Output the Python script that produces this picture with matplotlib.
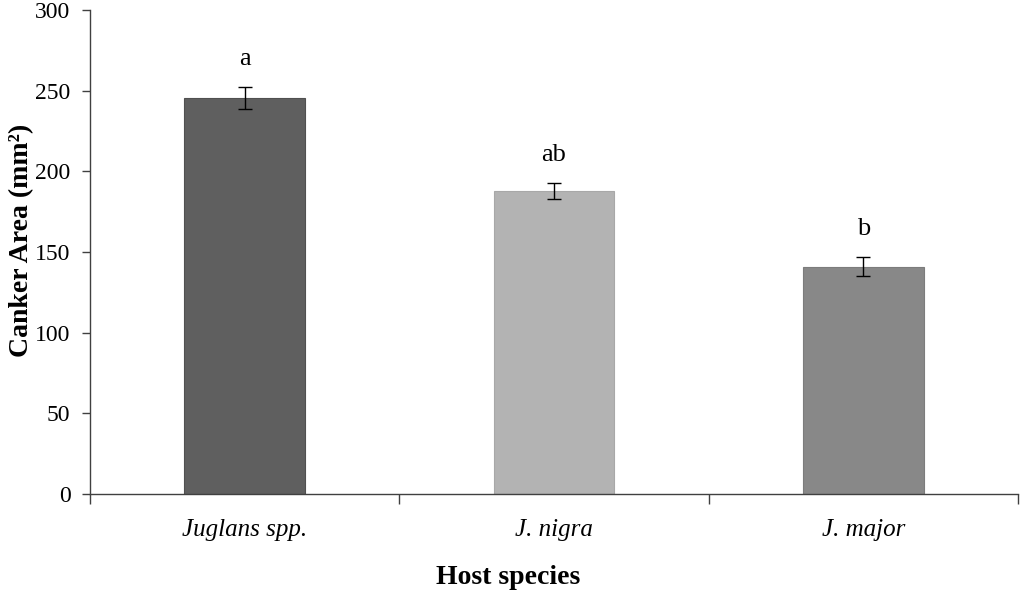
import numpy as np
import matplotlib
matplotlib.use("Agg")
import matplotlib.pyplot as plt

# Data
hosts = ["Juglans spp.", "J. nigra", "J. major"]
canker_area = [245.5, 188.0, 141.0]
sem = [7.0, 5.0, 6.0]
letters = ["a", "ab", "b"]
bar_colors = ["#5f5f5f", "#b3b3b3", "#888888"]

plt.rcParams["font.family"] = ["Liberation Serif", "DejaVu Serif"]

fig = plt.figure(figsize=(10.21, 6.0), dpi=100)
ax = fig.add_axes([90 / 1021, 106 / 600, 928 / 1021, 484 / 600])

x = np.arange(len(hosts))
ax.bar(x, canker_area, width=0.39, color=bar_colors,
       edgecolor=["#505050", "#a8a8a8", "#7c7c7c"], linewidth=0.8, zorder=2)
ax.errorbar(x, canker_area, yerr=sem, fmt="none", ecolor="black",
            elinewidth=1.0, capsize=5, capthick=1.0, zorder=3)

for xi, v, e, lab in zip(x, canker_area, sem, letters):
    ax.text(xi, v + e + 17, lab, ha="center", va="center", fontsize=19)

ax.set_xlim(-0.5, len(hosts) - 0.5)
ax.set_ylim(0, 300)
ax.set_yticks(np.arange(0, 301, 50))

# category boundaries as ticks, names centred between them
ax.set_xticks(np.arange(-0.5, len(hosts), 1.0))
ax.set_xticklabels([])
ax.set_xticks(x, minor=True)
ax.set_xticklabels(hosts, minor=True, style="italic", fontsize=18)
ax.tick_params(axis="x", which="major", direction="out", length=7,
               width=1.0, color="#404040")
ax.tick_params(axis="x", which="minor", length=0, pad=18)
ax.tick_params(axis="y", direction="out", length=6, width=1.0,
               color="#404040", labelsize=17, pad=8)

for side in ("top", "right"):
    ax.spines[side].set_visible(False)
for side in ("left", "bottom"):
    ax.spines[side].set_color("#404040")
    ax.spines[side].set_linewidth(1.0)

# axis titles placed by centre point in figure pixels
fig.text(22 / 1021, 1 - 240 / 600, "Canker Area (mm²)", rotation=90,
         ha="center", va="center", fontsize=20, fontweight="bold")
fig.text(508 / 1021, 1 - 578 / 600, "Host species",
         ha="center", va="center", fontsize=20, fontweight="bold")

fig.savefig("out.png", dpi=100)
